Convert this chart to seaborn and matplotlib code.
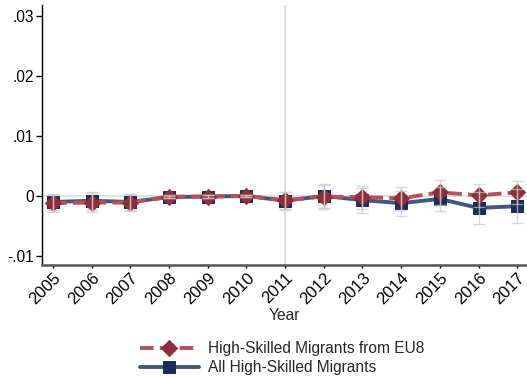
import matplotlib
matplotlib.use('Agg')
import matplotlib.pyplot as plt
import numpy as np
import pandas as pd
import seaborn as sns

years = list(range(2005, 2018))

# point estimates
eu8 = [-0.0012, -0.0011, -0.0011, -0.0001, -0.0001, 0.0000, -0.0007,
       -0.0001, -0.0002, -0.0004, 0.0006, 0.0001, 0.0006]
all_hs = [-0.0010, -0.0008, -0.0010, -0.0002, -0.0001, 0.0000, -0.0008,
          0.0000, -0.0007, -0.0012, -0.0005, -0.0020, -0.0017]

# confidence interval half-widths
eu8_ci = [0.0014, 0.0016, 0.0014, 0.0002, 0.0002, 0.0001, 0.0014,
          0.0020, 0.0019, 0.0019, 0.0021, 0.0019, 0.0019]
all_ci = [0.0014, 0.0015, 0.0014, 0.0002, 0.0002, 0.0001, 0.0015,
          0.0020, 0.0021, 0.0021, 0.0020, 0.0027, 0.0028]

lab_eu8 = 'High-Skilled Migrants from EU8'
lab_all = 'All High-Skilled Migrants'

red = '#8f2f3b'
red_line = '#b5525c'
navy = '#1d2c58'
navy_line = '#45567a'

sns.set_style('white')
plt.rcParams['font.family'] = ['Liberation Sans', 'DejaVu Sans']

fig, ax = plt.subplots(figsize=(5.27, 3.77), dpi=100)
fig.subplots_adjust(left=0.08, right=0.999, top=0.987, bottom=0.297)

ax.axvline(2011, color='#d9d9d9', lw=1.2, zorder=0)
ax.axhline(0, color='#e2e2e2', lw=1.5, zorder=0)

df_all = pd.DataFrame({'Year': years, 'val': all_hs})
df_eu8 = pd.DataFrame({'Year': years, 'val': eu8})

sns.lineplot(data=df_all, x='Year', y='val', ax=ax, color=navy_line, lw=2.8,
             marker='s', markersize=9.3, markerfacecolor=navy,
             markeredgecolor=navy, label=lab_all, zorder=2)
sns.lineplot(data=df_eu8, x='Year', y='val', ax=ax, color=red_line, lw=2.8,
             dashes=(3.5, 1.6), marker='D', markersize=7.8, markerfacecolor=red,
             markeredgecolor=red, label=lab_eu8, zorder=3)

ax.errorbar(years, all_hs, yerr=all_ci, fmt='none', ecolor='#c8c8c8',
            elinewidth=1, capsize=4, alpha=0.7, zorder=4)
ax.errorbar(years, eu8, yerr=eu8_ci, fmt='none', ecolor='#c8c8c8',
            elinewidth=1, capsize=4, alpha=0.7, zorder=4)

ax.set_xlim(2004.72, 2017.24)
ax.set_ylim(-0.0115, 0.0318)
ax.set_xticks(years)
ax.set_xticklabels([str(y) for y in years], rotation=45, ha='right',
                   rotation_mode='anchor', fontsize=12)
ax.set_yticks([-0.01, 0, 0.01, 0.02, 0.03])
ax.set_yticklabels(['-.01', '0', '.01', '.02', '.03'], fontsize=11.2)
ax.tick_params(axis='y', direction='out', length=4, width=1, colors='black',
               left=True, pad=2)
ax.tick_params(axis='x', direction='out', length=2, width=1, colors='black',
               bottom=True, pad=2)
ax.set_xlabel('Year', fontsize=11.2, labelpad=0)
ax.set_ylabel('')

for s in ['top', 'right']:
    ax.spines[s].set_visible(False)
ax.spines['left'].set_color('black')
ax.spines['left'].set_linewidth(1)
ax.spines['bottom'].set_color('#555555')
ax.spines['bottom'].set_linewidth(1.8)

h, l = ax.get_legend_handles_labels()
ax.get_legend().remove()
order = [l.index(lab_eu8), l.index(lab_all)]
fig.legend([h[i] for i in order], [l[i] for i in order], loc='center',
           bbox_to_anchor=(0.535, 0.05), frameon=False, fontsize=11.2,
           handlelength=3.8, handletextpad=0.6, labelspacing=0.25)

fig.savefig('out.png', dpi=100)
